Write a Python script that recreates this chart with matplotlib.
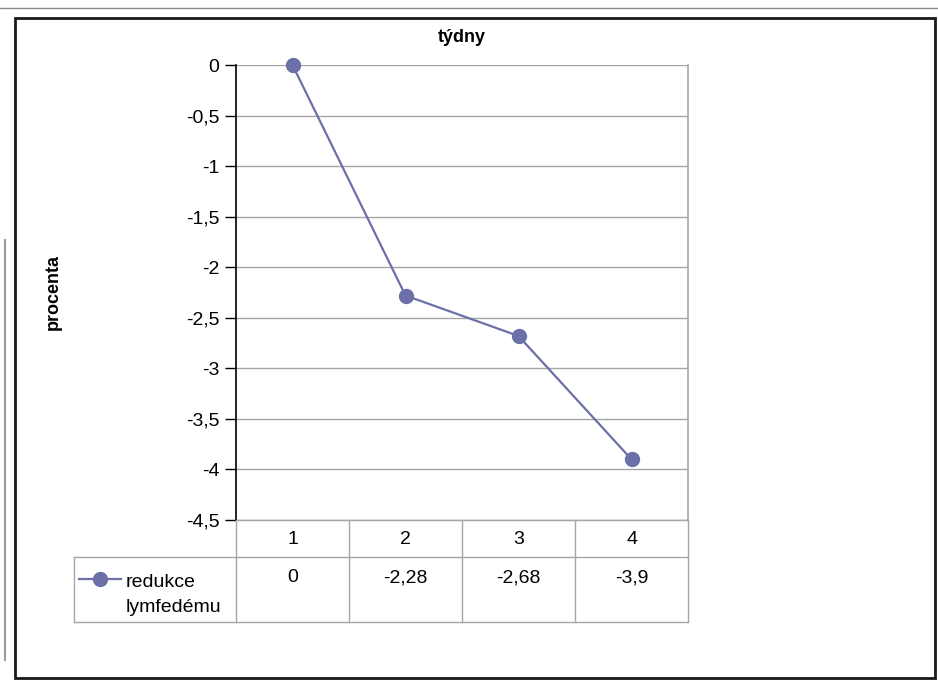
import matplotlib.pyplot as plt
from matplotlib.lines import Line2D
from matplotlib.patches import Rectangle
import matplotlib.transforms as mtransforms

weeks = [1, 2, 3, 4]
week_labels = ["1", "2", "3", "4"]
reduction = [0, -2.28, -2.68, -3.9]
value_labels = ["0", "-2,28", "-2,68", "-3,9"]
y_ticks = [0, -0.5, -1, -1.5, -2, -2.5, -3, -3.5, -4, -4.5]
series_name = "redukce\nlymfedému"

W, H = 938, 681
line_col = "#6b70a8"
grid_col = "#a6a6a6"
fs = 14

plt.rcParams['font.family'] = ['Liberation Sans', 'DejaVu Sans']

fig = plt.figure(figsize=(W / 100, H / 100), dpi=100)

def fx(px):
    return px / W

def fy(py):
    return 1 - py / H

# plot area in pixels: left 236, right 688, top 65 (value 0), bottom 520 (value -4.5)
ax = fig.add_axes([fx(236), fy(520), fx(688 - 236), (520 - 65) / H])
ax.set_xlim(0.5, 4.5)
ax.set_ylim(-4.5, 0)

ax.plot(weeks, reduction, color=line_col, lw=1.6, marker='o', ms=10,
        markerfacecolor=line_col, markeredgecolor=line_col, clip_on=False, zorder=5)

ax.set_yticks(y_ticks)
ax.set_yticklabels([("%g" % v).replace(".", ",") for v in y_ticks], fontsize=fs)
ax.tick_params(axis='y', direction='out', length=8, width=1, pad=4)
ax.set_xticks([])
for v in y_ticks:
    ax.axhline(v, color=grid_col, lw=1, zorder=1)

ax.spines['top'].set_visible(False)
ax.spines['bottom'].set_color(grid_col)
ax.spines['right'].set_color(grid_col)
ax.spines['right'].set_linewidth(1.2)
ax.spines['left'].set_color('black')
ax.spines['left'].set_linewidth(1.2)

ax.set_ylabel("procenta", fontsize=13, fontweight='bold', labelpad=0)
ax.yaxis.set_label_coords(fx(62 - 236) / fx(688 - 236), 0.5)
fig.text(fx(462), fy(37), "týdny", ha='center', va='center', fontsize=13, fontweight='bold')

# data table under the plot: x from data coords, y in figure pixels
tb = mtransforms.blended_transform_factory(ax.transData, fig.transFigure)
row_top, row_mid, row_bot = fy(520), fy(557), fy(622)
for b in [0.5, 1.5, 2.5, 3.5, 4.5]:
    ax.add_line(Line2D([b, b], [row_top, row_bot], transform=tb, color=grid_col,
                       lw=1, clip_on=False))
fig.add_artist(Line2D([fx(236), fx(688)], [row_top, row_top], color=grid_col, lw=1))
fig.add_artist(Line2D([fx(74), fx(688)], [row_mid, row_mid], color=grid_col, lw=1))
fig.add_artist(Line2D([fx(74), fx(688)], [row_bot, row_bot], color=grid_col, lw=1))
fig.add_artist(Line2D([fx(74), fx(74)], [row_mid, row_bot], color=grid_col, lw=1))

for w, lab, val in zip(weeks, week_labels, value_labels):
    ax.text(w, fy(539), lab, transform=tb, ha='center', va='center', fontsize=fs)
    ax.text(w, fy(578), val, transform=tb, ha='center', va='center', fontsize=fs)

# legend key inside the first data row
fig.add_artist(Line2D([fx(79), fx(121)], [fy(579), fy(579)], color=line_col, lw=1.6))
fig.add_artist(Line2D([fx(100)], [fy(579)], color=line_col, marker='o', ms=10, lw=0))
fig.text(fx(126), fy(595), series_name, ha='left', va='center', fontsize=fs,
         linespacing=1.65)

# outer chart border
fig.add_artist(Rectangle((fx(15), fy(678)), fx(935 - 15), (678 - 18) / H,
                         fill=False, edgecolor='#1a1a1a', lw=2, transform=fig.transFigure))
fig.add_artist(Line2D([0, 1], [fy(8), fy(8)], color='#8c8c8c', lw=1))
fig.add_artist(Line2D([fx(5), fx(5)], [fy(240), fy(660)], color='#9a9a9a', lw=1.5))

fig.savefig("out.png", dpi=100)
